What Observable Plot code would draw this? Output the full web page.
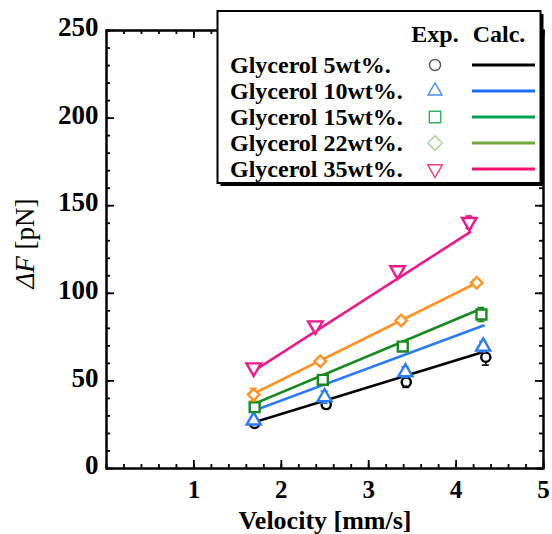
<!DOCTYPE html>
<html><head><meta charset="utf-8">
<script src="https://cdn.jsdelivr.net/npm/d3@7"></script>
<script src="https://cdn.jsdelivr.net/npm/@observablehq/plot@0.6"></script>
<style>body{margin:0;background:#fff;} #chart{width:552px;height:534px;overflow:hidden}</style>
</head><body><div id="chart"></div>
<script>
// ---- data ----
const seriesNames = ["Glycerol 5wt%.", "Glycerol 10wt%.", "Glycerol 15wt%.", "Glycerol 22wt%.", "Glycerol 35wt%."];
const legendHeaders = ["Exp.", "Calc."];
const xLabel = "Velocity [mm/s]";
const yLabel = "ΔF [pN]";
const xTickLabels = [1, 2, 3, 4, 5];
const yTickLabels = [0, 50, 100, 150, 200, 250];

const vel5 = [1.695, 2.514, 3.43, 4.34];
const force5 = [25.7, 36.5, 49.3, 63.5];
const err5 = [1.5, 2, 3, 4.5];
const vel10 = [1.684, 2.495, 3.42, 4.31];
const force10 = [27.4, 40.7, 55.0, 69.6];
const err10 = [1.5, 3.5, 3, 3];
const vel15 = [1.695, 2.475, 3.39, 4.29];
const force15 = [35.0, 50.6, 69.6, 87.9];
const err15 = [1.5, 1.5, 1.5, 4];
const vel22 = [1.684, 2.446, 3.371, 4.236];
const force22 = [42.2, 61.2, 84.5, 106.0];
const err22 = [3.5, 1.5, 1.5, 1.5];
const vel35 = [1.684, 2.39, 3.33, 4.15];
const force35 = [57.6, 81.6, 113.0, 140.6];
const err35 = [1.5, 2, 2, 3.5];

const calcVel5 = [1.69, 4.30], calcForce5 = [26.4, 66.4];
const calcVel10 = [1.69, 4.315], calcForce10 = [33.1, 81.6];
const calcVel15 = [1.69, 4.286], calcForce15 = [36.9, 91.2];
const calcVel22 = [1.68, 4.25], calcForce22 = [42.6, 106.3];
const calcVel35 = [1.69, 4.16], calcForce35 = [55.9, 134.9];

// ---- build ----
const W = 552, H = 534, ML = 106, MR = 9, MT = 30, MB = 66;
const FH = H - MT - MB, FW = W - ML - MR;
const serif = "'Liberation Serif','Times New Roman',serif";

const expSets = [[vel5, force5, err5], [vel10, force10, err10], [vel15, force15, err15], [vel22, force22, err22], [vel35, force35, err35]];
const calcSets = [[calcVel5, calcForce5], [calcVel10, calcForce10], [calcVel15, calcForce15], [calcVel22, calcForce22], [calcVel35, calcForce35]];
const plotColors = ["#000000", "#2b7bf6", "#178a1f", "#ff9222", "#f0168c"];
const symbols = ["circle", "triangle", "square", "diamond2", "triangle"];
const rotations = [0, 0, 0, 0, 180];
const radii = [4.6, 5.2, 5.6, 5.2, 5.4];

const xMinor = d3.range(0, 5.001, 0.2).map(v => +v.toFixed(1));
const yMinor = d3.range(0, 250.1, 10);

const tickStyle = {stroke: "black", strokeWidth: 1.8};
const marks = [
  Plot.ruleX(xMinor, {x: d => d, insetTop: FH - 4, ...tickStyle}),
  Plot.ruleX(xTickLabels, {x: d => d, insetTop: FH - 8, ...tickStyle}),
  Plot.ruleX(xMinor, {x: d => d, insetBottom: FH - 4, ...tickStyle}),
  Plot.ruleX(xTickLabels, {x: d => d, insetBottom: FH - 8, ...tickStyle}),
  Plot.ruleY(yMinor, {y: d => d, insetRight: FW - 4, ...tickStyle}),
  Plot.ruleY(yTickLabels, {y: d => d, insetRight: FW - 8, ...tickStyle}),
  Plot.ruleY(yMinor, {y: d => d, insetLeft: FW - 4, ...tickStyle}),
  Plot.ruleY(yTickLabels, {y: d => d, insetLeft: FW - 8, ...tickStyle}),
  Plot.frame({stroke: "black", strokeWidth: 2.5}),
  Plot.axisX(xTickLabels, {anchor: "bottom", tickSize: 0, tickPadding: 12, label: null, fontSize: 25, fontWeight: "bold"}),
  Plot.axisY(yTickLabels, {anchor: "left", tickSize: 0, tickPadding: 8, label: null, fontSize: 27, fontWeight: "bold", dy: -3}),
  Plot.text([xLabel], {text: d => d, frameAnchor: "bottom", textAnchor: "middle", dy: 60, lineAnchor: "bottom", fontSize: 26, fontWeight: "bold"}),
  Plot.text([yLabel], {text: d => d, frameAnchor: "left", textAnchor: "middle", lineAnchor: "middle", dx: -81, dy: -6, rotate: -90, fontSize: 27, fontWeight: "normal"})
];
calcSets.forEach(([xs, ys], i) => {
  marks.push(Plot.line(xs.map((x, j) => ({x, y: ys[j]})), {x: "x", y: "y", stroke: plotColors[i], strokeWidth: 2.6}));
});
expSets.forEach(([xs, ys, es], i) => {
  const rows = xs.map((x, j) => ({x, y: ys[j], e: es[j]}));
  const c = plotColors[i];
  marks.push(Plot.ruleX(rows, {x: "x", y1: d => d.y - d.e, y2: d => d.y + d.e, stroke: c, strokeWidth: 1.6}));
  marks.push(Plot.ruleY(rows, {x1: "x", x2: "x", y: d => d.y + d.e, insetLeft: -3.5, insetRight: -3.5, stroke: c, strokeWidth: 1.6}));
  marks.push(Plot.ruleY(rows, {x1: "x", x2: "x", y: d => d.y - d.e, insetLeft: -3.5, insetRight: -3.5, stroke: c, strokeWidth: 1.6}));
  marks.push(Plot.dot(rows, {x: "x", y: "y", symbol: symbols[i], r: radii[i], rotate: rotations[i], stroke: c, fill: "white", strokeWidth: 2.4}));
});

const svg = Plot.plot({
  width: W, height: H,
  marginLeft: ML, marginRight: MR, marginTop: MT, marginBottom: MB,
  x: {type: "linear", domain: [0, 5]},
  y: {type: "linear", domain: [0, 250]},
  style: {fontFamily: serif, background: "white", color: "black", overflow: "visible"},
  marks
});

// italic ΔF in the y label
svg.querySelectorAll("text").forEach(t => {
  if (t.textContent === yLabel) {
    t.textContent = "";
    const a = document.createElementNS("http://www.w3.org/2000/svg", "tspan");
    a.setAttribute("font-style", "italic");
    a.textContent = "ΔF";
    const b = document.createElementNS("http://www.w3.org/2000/svg", "tspan");
    b.textContent = " [pN]";
    t.appendChild(a); t.appendChild(b);
  }
});

// legend (decoration)
const legendMarkerColors = ["#555555", "#4a90f5", "#2cb85a", "#a8d291", "#f0407a"];
const legendLineColors = ["#000000", "#1a6ef0", "#00a04a", "#70a83c", "#f0106a"];
const g = d3.select(svg).append("g").attr("font-family", serif).attr("font-weight", "bold");
g.append("rect").attr("x", 220.5).attr("y", 14).attr("width", 323).attr("height", 172).attr("fill", "black");
g.append("rect").attr("x", 217.5).attr("y", 11).attr("width", 323).attr("height", 172).attr("fill", "white").attr("stroke", "black").attr("stroke-width", 2);
g.append("text").attr("x", 435).attr("y", 41.5).attr("text-anchor", "middle").attr("font-size", 24).text(legendHeaders[0]);
g.append("text").attr("x", 499).attr("y", 41.5).attr("text-anchor", "middle").attr("font-size", 24).text(legendHeaders[1]);
const lsym = [d3.symbolCircle, d3.symbolTriangle, d3.symbolSquare, d3.symbolDiamond2, d3.symbolTriangle];
const lsize = [95, 85, 130, 130, 95];
seriesNames.forEach((name, i) => {
  const cy = 65 + 26 * i;
  g.append("text").attr("x", 230).attr("y", cy + 7.7).attr("text-anchor", "start").attr("font-size", 24).text(name);
  g.append("path").attr("d", d3.symbol(lsym[i], lsize[i])())
    .attr("transform", `translate(435,${cy})` + (i === 4 ? " rotate(180)" : ""))
    .attr("fill", "white").attr("stroke", legendMarkerColors[i]).attr("stroke-width", 1.4);
  g.append("line").attr("x1", 472).attr("x2", 535).attr("y1", cy).attr("y2", cy)
    .attr("stroke", legendLineColors[i]).attr("stroke-width", 3);
});

document.getElementById("chart").appendChild(svg);
</script>
</body></html>
